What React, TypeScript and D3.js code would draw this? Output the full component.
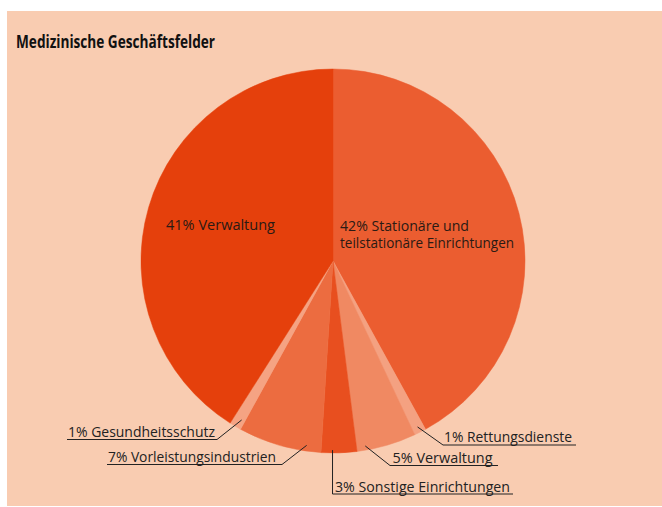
import React from "react";
import * as d3 from "d3";

const title = "Medizinische Geschäftsfelder";
const categories = [
  "Stationäre und teilstationäre Einrichtungen",
  "Rettungsdienste",
  "Verwaltung",
  "Sonstige Einrichtungen",
  "Vorleistungsindustrien",
  "Gesundheitsschutz",
  "Verwaltung",
];
const values = [42, 1, 5, 3, 7, 1, 41];
const colors = ["#EB5D30", "#F4A181", "#F08962", "#E84F1F", "#EC6C40", "#F5A383", "#E5400C"];

const W = 662;
const H = 507;
const cx = 333;
const cy = 261;
const R = 192;

// inside labels (lines)
const insideLabels = [
  { idx: 6, lines: ["41% Verwaltung"], x: 166, y: 230, widths: [109] },
  { idx: 0, lines: ["42% Stationäre und", "teilstationäre Einrichtungen"], x: 340, y: 230.5, widths: [129, 174] },
];

// outside labels with leader lines
const outsideLabels = [
  { idx: 1, text: "1% Rettungsdienste", tx: 444, ty: 441.5, tw: 128, ux0: 443, ux1: 576, uy: 445, frac: 0.5, rr: 0.97, vertical: false },
  { idx: 2, text: "5% Verwaltung", tx: 392.5, ty: 462.5, tw: 100, ux0: 390, ux1: 498, uy: 465.5, frac: 0.85, rr: 0.978, vertical: false },
  { idx: 3, text: "3% Sonstige Einrichtungen", tx: 335, ty: 491.5, tw: 175, ux0: 333, ux1: 513, uy: 494, frac: 0.68, rr: 0.985, vertical: true },
  { idx: 4, text: "7% Vorleistungsindustrien", tx: 108, ty: 461.5, tw: 168, ux0: 107, ux1: 282, uy: 464.5, frac: 0.18, rr: 0.97, vertical: false },
  { idx: 5, text: "1% Gesundheitsschutz", tx: 68, ty: 436.5, tw: 147, ux0: 67, ux1: 217, uy: 439.5, frac: 0.3, rr: 0.955, vertical: false },
];

export default function App() {
  const pie = d3.pie<number>().sort(null).value((d) => d)(values);
  const arc = d3.arc<d3.PieArcDatum<number>>().innerRadius(0).outerRadius(R);
  const font = "'Open Sans', 'Noto Sans', sans-serif";

  const pointAt = (a: number, r: number) => [cx + r * Math.sin(a), cy - r * Math.cos(a)];

  return (
    <svg width={W} height={H} style={{ position: "absolute", left: 0, top: 0 }}>
      <rect x={0} y={0} width={W} height={H} fill="#ffffff" />
      <rect x={7} y={11} width={W - 7} height={H - 12} fill="#F9CCB1" />
      <text
        x={16}
        y={48}
        fontFamily={font}
        fontWeight={700}
        fontSize={18}
        fill="#111"
        textLength={199}
        lengthAdjust="spacingAndGlyphs"
      >
        {title}
      </text>
      <g transform={`translate(${cx},${cy})`}>
        {pie.map((p, i) => (
          <path key={i} d={arc(p) || ""} fill={colors[i]} stroke={colors[i]} strokeWidth={0.5}>
            <title>{categories[i]}</title>
          </path>
        ))}
      </g>
      {insideLabels.map((l, i) =>
        l.lines.map((line, j) => (
          <text
            key={`${i}-${j}`}
            x={l.x}
            y={l.y + j * 17.5}
            fontFamily={font}
            fontSize={14}
            fill="#2a1a14"
            textLength={l.widths[j]}
            lengthAdjust="spacingAndGlyphs"
          >
            {line}
          </text>
        ))
      )}
      {outsideLabels.map((l, i) => {
        const p = pie[l.idx];
        const a = p.startAngle + (p.endAngle - p.startAngle) * l.frac;
        const [px, py] = pointAt(a, R * l.rr);
        const cornerX = l.vertical ? l.ux0 : l.ux0 < px ? l.ux1 : l.ux0;
        const leaderStartX = l.vertical ? px : px;
        return (
          <g key={i}>
            <text
              x={l.tx}
              y={l.ty}
              fontFamily={font}
              fontSize={14}
              fill="#222"
              textLength={l.tw}
              lengthAdjust="spacingAndGlyphs"
            >
              {l.text}
            </text>
            {l.vertical ? (
              <polyline
                points={`${leaderStartX},${py} ${leaderStartX},${l.uy} ${l.ux1},${l.uy}`}
                fill="none"
                stroke="#222"
                strokeWidth={1}
              />
            ) : (
              <polyline
                points={`${px},${py} ${cornerX},${l.uy} ${l.ux0 < px ? l.ux0 : l.ux1},${l.uy}`}
                fill="none"
                stroke="#222"
                strokeWidth={1}
              />
            )}
          </g>
        );
      })}
    </svg>
  );
}
